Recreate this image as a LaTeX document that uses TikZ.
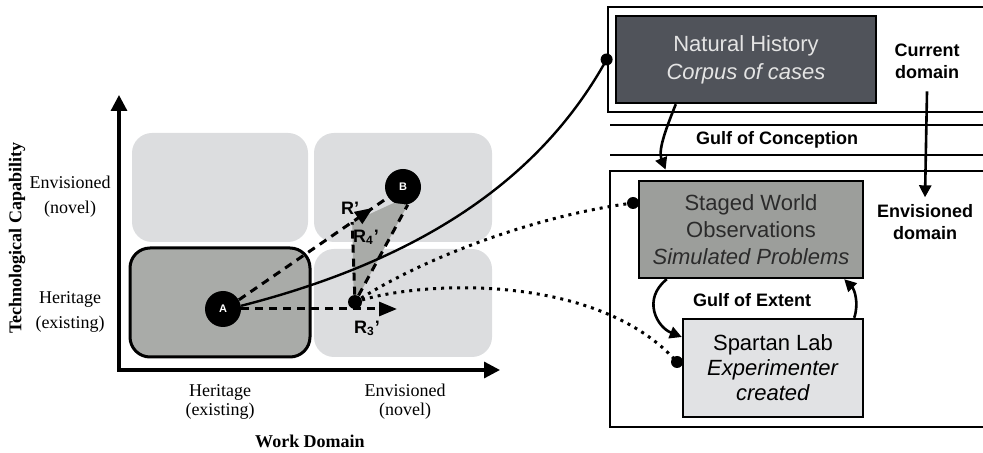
\documentclass[tikz,border=0pt]{standalone}
\usepackage{fontspec}
\setmainfont{Liberation Serif}
\setsansfont{Liberation Sans}
\usetikzlibrary{arrows.meta,calc,decorations.markings}
\definecolor{cellgrey}{HTML}{DCDDDF}
\definecolor{heritgrey}{HTML}{A9ABA8}
\definecolor{nhgrey}{HTML}{50535A}
\definecolor{nhtext}{HTML}{E4E4E4}
\definecolor{swgrey}{HTML}{9C9E9B}
\definecolor{swtext}{HTML}{2B2B2B}
\definecolor{slgrey}{HTML}{E1E2E4}
\begin{document}
\begin{tikzpicture}[x=0.5pt,y=-0.5pt,
  cell/.style={fill=cellgrey,rounded corners=10pt},
  ticklab/.style={align=center,font=\fontsize{9}{12.5}\selectfont},
  pt/.style={circle,fill=black,inner sep=0pt,minimum size=18pt,text=white,
    font=\sffamily\bfseries\fontsize{5.5}{6}\selectfont},
  tinydot/.style={circle,fill=black,inner sep=0pt,minimum size=6pt},
  rlab/.style={font=\sffamily\bfseries\fontsize{9}{10}\selectfont},
  dashline/.style={line width=1.5pt,dash pattern=on 4pt off 3pt},
  dotline/.style={line width=1.5pt,dash pattern=on 1.5pt off 2.5pt},
  midtip/.style={postaction={decorate},decoration={markings,
    mark=at position 0.9 with {\arrow{Triangle[length=9pt,width=7pt]}}}},
  casebox/.style={draw,line width=1.2pt,align=center,inner sep=0pt,
    font=\sffamily\fontsize{11}{13.5}\selectfont},
  domainbox/.style={draw,line width=1.4pt,inner sep=0pt},
  gulf/.style={font=\sffamily\bfseries\fontsize{9}{11}\selectfont,align=center},
  gulfarrow/.style={line width=1.3pt,-{Triangle[length=6pt,width=6pt]}}
]
\useasboundingbox (0,0) rectangle (983,453);

% the four cells
\fill[cell] (132,133) rectangle (308,242);
\fill[cell] (314,133) rectangle (492,242);
\fill[cell] (314,249) rectangle (492,357);
\filldraw[fill=heritgrey,line width=1.5pt,rounded corners=10pt] (130,248) rectangle (310,357);

% axes
\coordinate (o) at (119,370);
\draw[line width=1.6pt,{Triangle[length=8pt,width=8pt]}-{Triangle[length=8pt,width=8pt]}]
  (119,95) -- (o) -- (500,370);
\node[ticklab] (yenv) at (70,197) {Envisioned\\(novel)};
\node[ticklab] (yher) at (70,312) {Heritage\\(existing)};
\node[ticklab,font=\fontsize{9}{9.5}\selectfont] (xher) at (220,402) {Heritage\\(existing)};
\node[ticklab,font=\fontsize{9}{9.5}\selectfont] (xenv) at (405,402) {Envisioned\\(novel)};
\node[rotate=90,font=\bfseries\fontsize{9}{10}\selectfont] (ylab) at (17,238) {Technological Capability};
\node[font=\bfseries\fontsize{9}{10}\selectfont] (xlab) at (310,441) {Work Domain};

% points and paths
\node[pt] (a) at (223,309) {A};
\node[pt] (b) at (403,187) {B};
\node[tinydot,minimum size=7pt] (m) at (355,302) {};
\coordinate (r4top) at ($(a.30)!0.76!(b.-145)$);
\coordinate (r3tip) at (397,309);
\fill[heritgrey] (m.100) -- (r4top) -- (b.-120) -- (b.-75) -- (m.60) -- cycle;
\draw[dashline] (m) -- (r4top);
\draw[dashline] (m) -- (b.-75);
\draw[dashline,midtip] (a.30) -- (b.-145);
\draw[dashline,-{Triangle[length=9pt,width=7pt]}] (a) -- (r3tip);
\node[rlab] (rp) at (350,208) {R’};
\node[rlab] (r4) at (366,237) {R\textsubscript{4}’};
\node[rlab] (r3) at (367,328) {R\textsubscript{3}’};

% current domain (runs past the right edge)
\node[domainbox,minimum width=195pt,minimum height=52.5pt] (cur) at (803,59.5) {};
\node[casebox,fill=nhgrey,text=nhtext,minimum width=130pt,minimum height=43.5pt,
  font=\sffamily\fontsize{11}{14}\selectfont] (nh) at (746,59.5)
  {Natural History\\\textit{Corpus of cases}};
\node[gulf] (curlab) at (927,61) {Current\\domain};
\draw[line width=1.4pt] (610,125) -- (995,125) (610,155) -- (995,155);
\node[gulf] (conc) at (777,140) {Gulf of Conception};

% envisioned domain (runs past the right edge)
\node[domainbox,minimum width=195pt,minimum height=128pt] (env) at (805,299) {};
\node[casebox,fill=swgrey,text=swtext,minimum width=112pt,minimum height=48.5pt] (sw) at (751,229.5)
  {Staged World\\Observations\\\textit{Simulated Problems}};
\node[casebox,fill=slgrey,minimum width=90pt,minimum height=49pt,
  font=\sffamily\fontsize{11}{12.5}\selectfont] (sl) at (773,368)
  {Spartan Lab\\\textit{Experimenter}\\\textit{created}};
\node[gulf] (envlab) at (925,222) {Envisioned\\domain};
\node[gulf] (ext) at (752,300) {Gulf of Extent};

% dots on the boxes
\node[tinydot] (nhdot) at (cur.west) {};
\node[tinydot] (swdot) at (633,203) {};
\node[tinydot] (sldot) at (677,362) {};

% connectors
\draw[line width=1.2pt] (a.10) .. controls (420,260) and (540,180) .. (nhdot.center);
\draw[dotline] (m) .. controls (430,255) and (540,215) .. (swdot.center);
\draw[dotline] (m) .. controls (430,280) and (600,275) .. (sldot.center);
\draw[gulfarrow] ([yshift=-3pt]curlab.south) -- (envlab.north);
\draw[gulfarrow] ([xshift=30.5pt]nh.south west) .. controls +(-8,20) and +(-8,-20) .. ([xshift=28.5pt]env.north west);
\draw[gulfarrow] ([xshift=14.5pt]sw.south west) .. controls +(-25,20) and +(-25,-10) .. ([yshift=15.5pt]sl.west);
\draw[gulfarrow] ([xshift=-5pt]sl.north east) .. controls +(5,-15) and +(10,10) .. ([xshift=-10pt]sw.south east);
\end{tikzpicture}
\end{document}
